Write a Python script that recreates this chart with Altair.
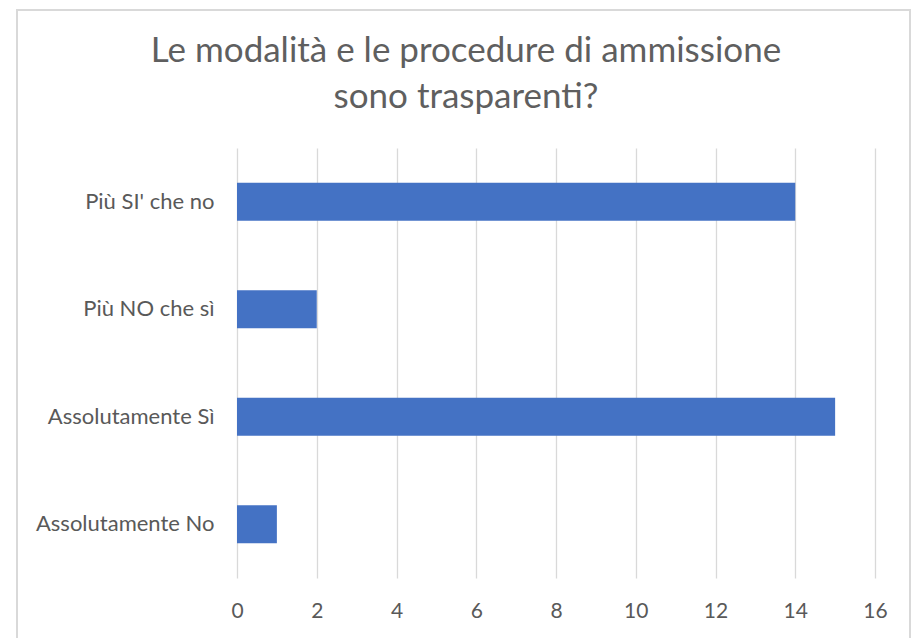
import altair as alt
import pandas as pd

categories = ["Più SI' che no", "Più NO che sì", "Assolutamente Sì", "Assolutamente No"]
values = [14, 2, 15, 1]
x_ticks = [0, 2, 4, 6, 8, 10, 12, 14, 16]
title_lines = ["Le modalità e le procedure di ammissione", "sono trasparenti?"]

df = pd.DataFrame({"cat": categories, "val": values})
one = pd.DataFrame({"k": [0]})

FONT = "Lato"
GREY = "#595959"

bars = alt.Chart(df).mark_bar(color="#4472C4").encode(
    x=alt.X("val:Q", scale=alt.Scale(domain=[0, 16], nice=False),
            axis=alt.Axis(values=x_ticks, title=None, grid=True, gridColor="#d9d9d9",
                          gridWidth=1.3, domain=False, ticks=False, labelPadding=22,
                          labelFlush=False,
                          labelFontSize=21, labelColor=GREY, labelFont=FONT)),
    y=alt.Y("cat:N", sort=categories,
            scale=alt.Scale(paddingInner=0.646, paddingOuter=0.323),
            axis=alt.Axis(title=None, domain=False, ticks=False, labelPadding=23,
                          labelFontSize=22, labelColor=GREY, labelFont=FONT)),
)

border = alt.Chart(one).mark_rect(fill=None, stroke="#d9d9d9", strokeWidth=2).encode(
    x=alt.value(-220), x2=alt.value(673), y=alt.value(-138), y2=alt.value(520)
)

t1 = alt.Chart(one).mark_text(font=FONT, fontSize=35, color="#5f5f5f",
                              align="center", baseline="alphabetic").encode(
    x=alt.value(229), y=alt.value(-86), text=alt.value(title_lines[0]))
t2 = alt.Chart(one).mark_text(font=FONT, fontSize=35, color="#5f5f5f",
                              align="center", baseline="alphabetic").encode(
    x=alt.value(229), y=alt.value(-40), text=alt.value(title_lines[1]))

chart = alt.layer(border, bars, t1, t2).properties(
    width=638, height=430,
    padding={"left": 229, "top": 140, "right": 37, "bottom": 60},
    autosize=alt.AutoSizeParams(type="none"),
    background="white",
).configure_view(strokeWidth=0, stroke=None)

chart.save("out.html", embed_options={"renderer": "svg", "actions": False})
